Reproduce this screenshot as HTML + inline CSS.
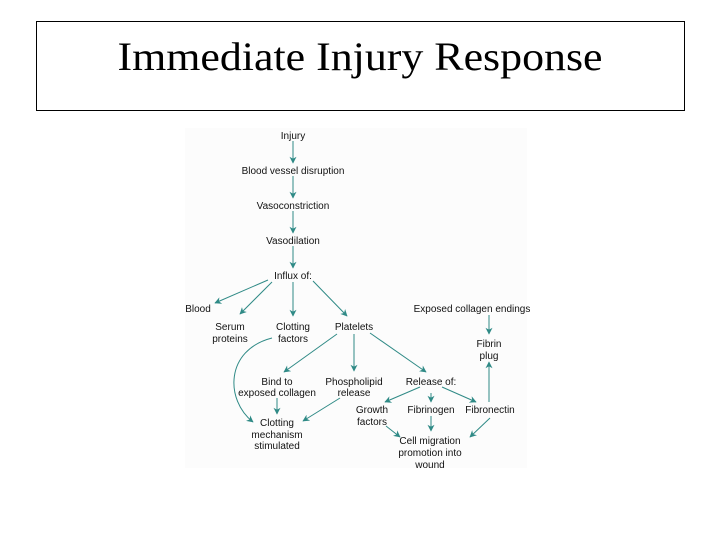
<!DOCTYPE html>
<html><head><meta charset="utf-8"><style>
html,body{margin:0;padding:0;background:#fff;width:720px;height:540px;overflow:hidden}
</style></head><body>
<svg width="720" height="540" viewBox="0 0 720 540" xmlns="http://www.w3.org/2000/svg">
<defs><marker id="a" viewBox="0 0 10 10" refX="9" refY="5" markerWidth="7" markerHeight="7" orient="auto"><path d="M0,0 L10,5 L0,10 L3,5 z" fill="#2f8a86"/></marker></defs>
<rect x="36.5" y="21.5" width="648" height="89" fill="none" stroke="#000" stroke-width="1"/>
<text x="360" y="70" text-anchor="middle" font-family="Liberation Serif, serif" font-size="40" textLength="485" lengthAdjust="spacingAndGlyphs">Immediate Injury Response</text>
<rect x="185" y="128" width="342" height="340" fill="#fcfcfc"/>
<g stroke="#2f8a86" stroke-width="1" fill="none" marker-end="url(#a)">
<line x1="293" y1="141" x2="293" y2="163"/>
<line x1="293" y1="176" x2="293" y2="198"/>
<line x1="293" y1="211" x2="293" y2="233"/>
<line x1="293" y1="246" x2="293" y2="268"/>
<line x1="268" y1="280" x2="215" y2="303"/>
<line x1="272" y1="282" x2="240" y2="314"/>
<line x1="293" y1="282" x2="293" y2="316"/>
<line x1="313" y1="281" x2="347" y2="316"/>
<line x1="337" y1="334" x2="284" y2="372"/>
<line x1="354" y1="334" x2="354" y2="371"/>
<line x1="370" y1="333" x2="426" y2="372"/>
<line x1="277" y1="398" x2="277" y2="414"/>
<line x1="340" y1="398" x2="303" y2="421"/>
<line x1="420" y1="387" x2="385" y2="402"/>
<line x1="431" y1="393" x2="431" y2="402"/>
<line x1="442" y1="387" x2="476" y2="402"/>
<line x1="489" y1="402" x2="489" y2="362"/>
<line x1="489" y1="315" x2="489" y2="334"/>
<line x1="431" y1="416" x2="431" y2="431"/>
<line x1="386" y1="426" x2="400" y2="437"/>
<line x1="490" y1="418" x2="470" y2="437"/>
<path d="M272,338 C225,350 225,400 253,422"/>
</g>
<g font-family="Liberation Sans, sans-serif" font-size="10" fill="#111" text-anchor="middle">
<text x="293" y="139">Injury</text>
<text x="293" y="174">Blood vessel disruption</text>
<text x="293" y="209">Vasoconstriction</text>
<text x="293" y="244">Vasodilation</text>
<text x="293" y="279">Influx of:</text>
<text x="198" y="312">Blood</text>
<text x="230" y="330">Serum</text><text x="230" y="342">proteins</text>
<text x="293" y="330">Clotting</text><text x="293" y="342">factors</text>
<text x="354" y="330">Platelets</text>
<text x="472" y="312">Exposed collagen endings</text>
<text x="489" y="347">Fibrin</text><text x="489" y="359">plug</text>
<text x="277" y="385">Bind to</text><text x="277" y="396">exposed collagen</text>
<text x="354" y="385">Phospholipid</text><text x="354" y="396">release</text>
<text x="431" y="385">Release of:</text>
<text x="372" y="413">Growth</text><text x="372" y="425">factors</text>
<text x="431" y="413">Fibrinogen</text>
<text x="490" y="413">Fibronectin</text>
<text x="277" y="426">Clotting</text><text x="277" y="438">mechanism</text><text x="277" y="449">stimulated</text>
<text x="430" y="444">Cell migration</text><text x="430" y="456">promotion into</text><text x="430" y="468">wound</text>
</g>
</svg>
</body></html>
